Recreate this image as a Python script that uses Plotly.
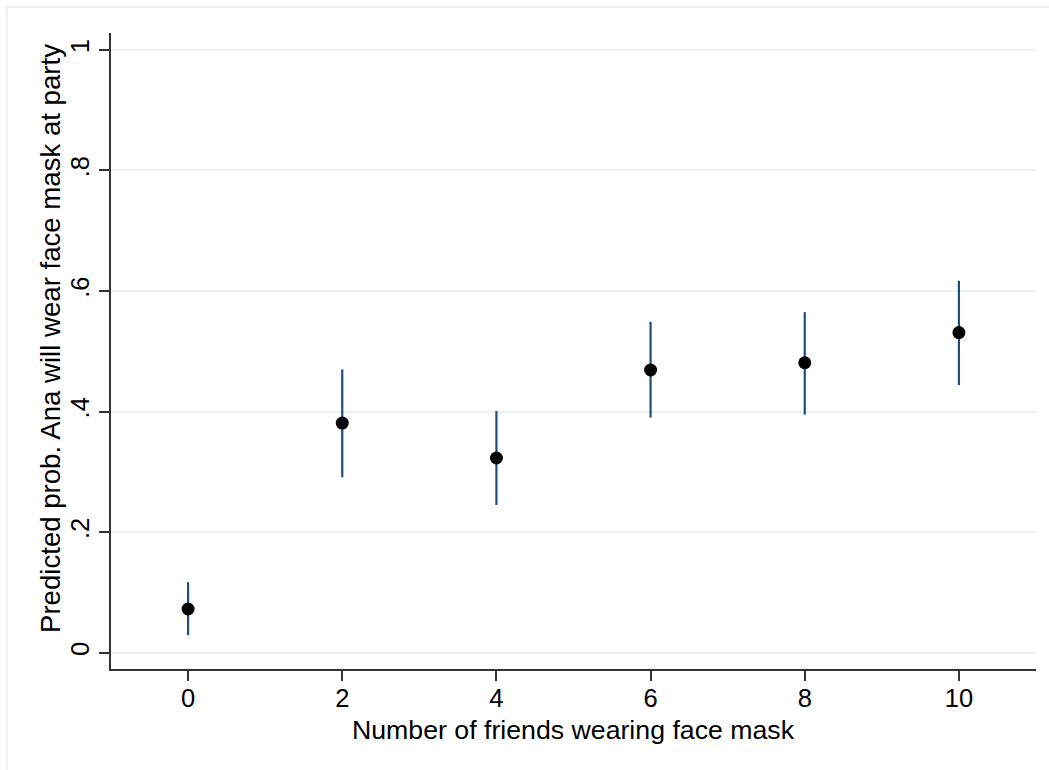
import plotly.graph_objects as go

friends = [0, 2, 4, 6, 8, 10]
pred = [0.0725, 0.381, 0.323, 0.469, 0.481, 0.531]
ci_low = [0.029, 0.291, 0.245, 0.390, 0.395, 0.444]
ci_high = [0.117, 0.470, 0.401, 0.549, 0.565, 0.617]

y_ticks = [0, 0.2, 0.4, 0.6, 0.8, 1]
y_tick_labels = ["0", ".2", ".4", ".6", ".8", "1"]
x_ticks = [0, 2, 4, 6, 8, 10]
x_title = "Number of friends wearing face mask"
y_title = "Predicted prob. Ana will wear face mask at party"

FONT = "Liberation Sans, Arial, Helvetica, sans-serif"
L, R, T, B = 111, 13, 33, 101
PW, PH = 1049 - L - R, 770 - T - B

fig = go.Figure()
fig.add_trace(go.Scatter(
    x=friends, y=pred, mode="markers",
    marker=dict(color="black", size=13),
    error_y=dict(type="data", symmetric=False,
                 array=[h - p for h, p in zip(ci_high, pred)],
                 arrayminus=[p - l for p, l in zip(pred, ci_low)],
                 width=0, thickness=2.2, color="#1f4e7c"),
    showlegend=False,
))

fig.add_shape(type="rect", xref="paper", yref="paper",
              x0=(7 - L) / PW, x1=1.03, y0=-0.2, y1=(770 - B - 7) / PH,
              line=dict(color="#e4eef0", width=1.5), layer="below")

fig.add_annotation(text=x_title, xref="paper", yref="paper",
                   x=0.5, y=(770 - B - 730) / PH, xanchor="center", yanchor="middle",
                   showarrow=False, font=dict(size=26.7))
fig.add_annotation(text=y_title, xref="paper", yref="paper", textangle=-90,
                   x=(50 - L) / PW, y=(770 - B - 339) / PH, xanchor="center", yanchor="middle",
                   showarrow=False, font=dict(size=27.6))

fig.update_layout(
    width=1049, height=770,
    margin=dict(l=L, r=R, t=T, b=B),
    paper_bgcolor="white", plot_bgcolor="white",
    font=dict(family=FONT, size=25, color="black"),
    xaxis=dict(
        range=[-1, 11], tickvals=x_ticks, ticks="outside", ticklen=10,
        tickwidth=1.5, tickcolor="#333333",
        showline=True, linecolor="#333333", linewidth=1.5,
        showgrid=False, zeroline=False, automargin=False,
        ticklabelstandoff=-4,
        tickfont=dict(size=25.5),
    ),
    yaxis=dict(
        range=[-0.027, 1.028], tickvals=y_ticks, ticktext=y_tick_labels,
        tickangle=-90, ticks="outside", ticklen=10,
        tickwidth=1.5, tickcolor="#333333",
        showline=True, linecolor="#333333", linewidth=1.5,
        showgrid=True, gridcolor="#eaf2f3", gridwidth=1.5,
        zeroline=False, automargin=False,
        tickfont=dict(size=25.5),
    ),
)

fig.write_html("out.html", config={"displayModeBar": False},
               post_script="document.body.style.margin='0px';")
